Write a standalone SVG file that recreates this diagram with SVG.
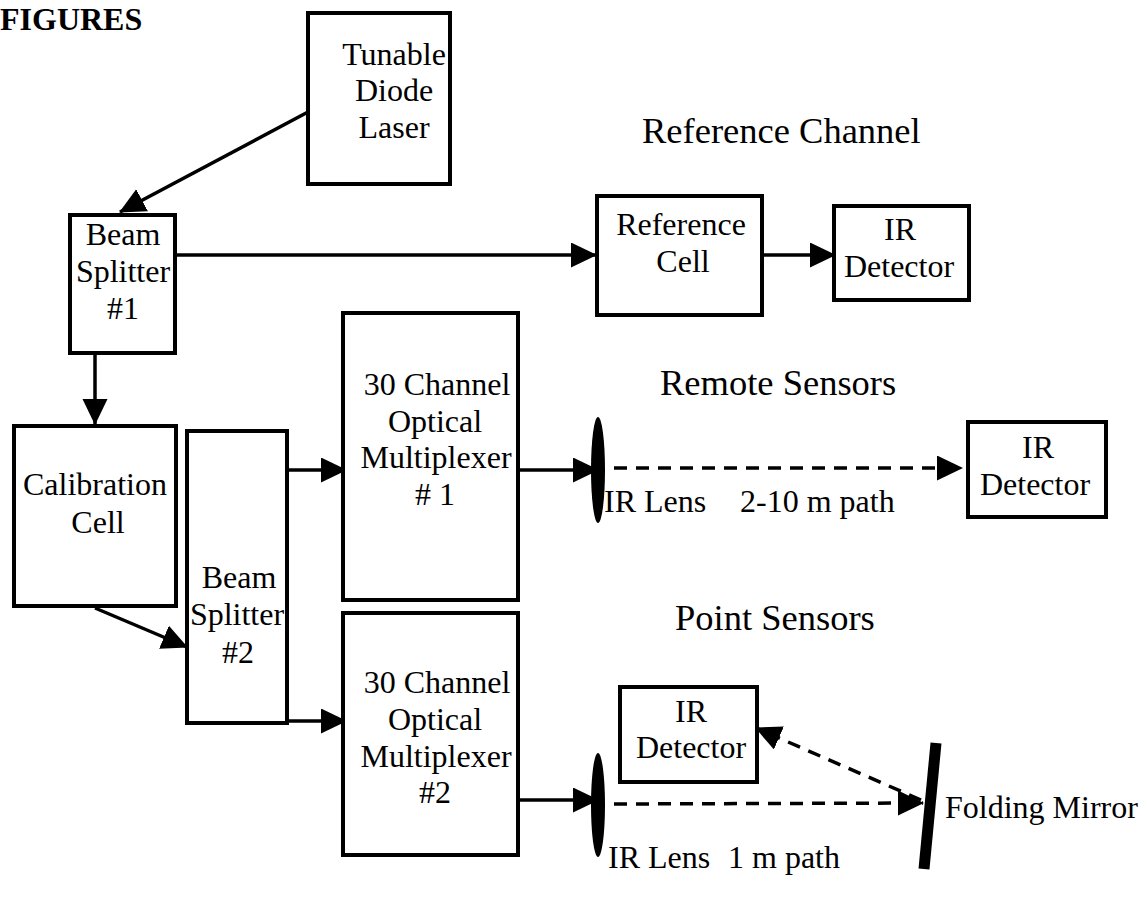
<svg xmlns="http://www.w3.org/2000/svg" width="1143" height="897" viewBox="0 0 1143 897">
<style>
text{font-family:"Liberation Serif","Times New Roman",serif;fill:#000}
.t{font-size:32px;text-anchor:middle}
.lbl{font-size:36.5px}
.s{font-size:32px}
.box{fill:#fff;stroke:#000;stroke-width:4}
.c{stroke:#000;stroke-width:3.5;fill:none}
.d{stroke:#000;stroke-width:3.5;fill:none;stroke-dasharray:13 9}
</style>
<defs>
<marker id="ah" markerUnits="userSpaceOnUse" markerWidth="26" markerHeight="26" refX="25" refY="12.5" orient="auto" viewBox="0 0 26 26">
<path d="M0,0 L26,12.5 L0,25 z" fill="#000"/>
</marker>
</defs>
<rect width="1143" height="897" fill="#fff"/>
<text x="0" y="30" style="font-size:32px;font-weight:bold">FIGURES</text>

<g id="connectors">
<line class="c" x1="308" y1="112" x2="120" y2="212" marker-end="url(#ah)"/>
<line class="c" x1="175" y1="255" x2="596" y2="255" marker-end="url(#ah)"/>
<line class="c" x1="762" y1="255" x2="835" y2="255" marker-end="url(#ah)"/>
<line class="c" x1="95" y1="353" x2="95" y2="424" marker-end="url(#ah)"/>
<line class="c" x1="95" y1="608" x2="187" y2="647" marker-end="url(#ah)"/>
<line class="c" x1="288" y1="470" x2="346" y2="470" marker-end="url(#ah)"/>
<line class="c" x1="288" y1="721" x2="346" y2="721" marker-end="url(#ah)"/>
<line class="c" x1="518" y1="470" x2="598" y2="470" marker-end="url(#ah)"/>
<line class="c" x1="518" y1="800" x2="598" y2="800" marker-end="url(#ah)"/>
<line class="d" x1="614" y1="468" x2="962" y2="468" marker-end="url(#ah)"/>
<line class="d" x1="614" y1="804" x2="923" y2="803" marker-end="url(#ah)"/>
<line class="d" x1="921" y1="800" x2="756" y2="728" marker-end="url(#ah)"/>
</g>

<g id="laser">
<rect class="box" x="308" y="13" width="142" height="171"/>
<text class="t" x="394" y="65">Tunable</text>
<text class="t" x="394" y="101">Diode</text>
<text class="t" x="394" y="138">Laser</text>
</g>

<g id="bs1">
<rect class="box" x="70" y="215" width="105" height="138"/>
<text class="t" x="123" y="245">Beam</text>
<text class="t" x="123" y="282">Splitter</text>
<text class="t" x="123" y="319">#1</text>
</g>

<g id="refcell">
<rect class="box" x="597" y="196" width="165" height="119"/>
<text class="t" x="681" y="235">Reference</text>
<text class="t" x="683" y="272">Cell</text>
</g>

<g id="irdet1">
<rect class="box" x="834" y="206" width="135" height="94"/>
<text class="t" x="900" y="240">IR</text>
<text class="t" x="899" y="277">Detector</text>
</g>

<g id="calib">
<rect class="box" x="14" y="426" width="162" height="180"/>
<text class="t" x="95" y="495">Calibration</text>
<text class="t" x="98" y="533">Cell</text>
</g>

<g id="bs2">
<rect class="box" x="187" y="431" width="100" height="292"/>
<text class="t" x="239" y="588">Beam</text>
<text class="t" x="237" y="625">Splitter</text>
<text class="t" x="238" y="663">#2</text>
</g>

<g id="mux1">
<rect class="box" x="343" y="313" width="175" height="287"/>
<text class="t" x="437" y="395">30 Channel</text>
<text class="t" x="435" y="432">Optical</text>
<text class="t" x="436" y="468">Multiplexer</text>
<text class="t" x="435" y="505"># 1</text>
</g>

<g id="mux2">
<rect class="box" x="343" y="613" width="175" height="242"/>
<text class="t" x="437" y="693">30 Channel</text>
<text class="t" x="435" y="730">Optical</text>
<text class="t" x="436" y="767">Multiplexer</text>
<text class="t" x="435" y="803">#2</text>
</g>

<g id="labels">
<text class="lbl" x="642" y="143">Reference Channel</text>
<text class="lbl" x="660" y="395">Remote Sensors</text>
<text class="lbl" x="675" y="630">Point Sensors</text>
</g>

<g id="lens1">
<ellipse cx="598" cy="470" rx="7" ry="53" fill="#000"/>
<text class="s" x="604" y="512">IR Lens</text>
<text class="s" x="740" y="512">2-10 m path</text>
</g>

<g id="irdet2">
<rect class="box" x="968" y="422" width="138" height="95"/>
<text class="t" x="1038" y="458">IR</text>
<text class="t" x="1035" y="495">Detector</text>
</g>

<g id="lens2">
<ellipse cx="598" cy="805" rx="7" ry="52" fill="#000"/>
<text class="s" x="608" y="868">IR Lens</text>
<text class="s" x="728" y="868">1 m path</text>
</g>

<g id="irdet3">
<rect class="box" x="620" y="687" width="137" height="95"/>
<text class="t" x="691" y="722">IR</text>
<text class="t" x="691" y="758">Detector</text>
</g>

<g id="mirror">
<line x1="936" y1="743" x2="924" y2="869" stroke="#000" stroke-width="11"/>
<text class="s" x="945" y="818">Folding Mirror</text>
</g>
</svg>
